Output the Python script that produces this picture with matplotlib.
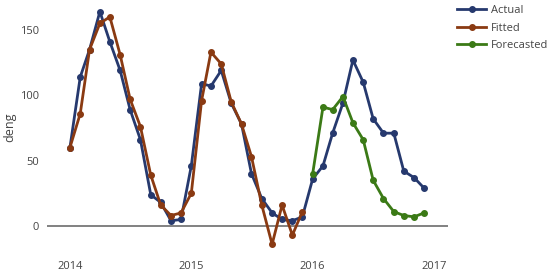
import numpy as np
import pandas as pd
import matplotlib
matplotlib.use('Agg')
import matplotlib.pyplot as plt
import matplotlib.dates as mdates

plt.rcParams['font.family'] = ['Open Sans', 'DejaVu Sans']

# monthly series
months_actual = pd.date_range('2014-01-01', periods=36, freq='MS')
actual = [60, 114, 135, 164, 141, 119, 89, 66, 24, 18, 4, 5,
          46, 109, 107, 119, 94, 78, 40, 21, 10, 5, 4, 7,
          36, 46, 71, 94, 127, 110, 82, 71, 71, 42, 37, 29]

months_fitted = pd.date_range('2014-01-01', periods=24, freq='MS')
fitted = [60, 86, 135, 155, 160, 131, 97, 76, 39, 16, 8, 10,
          25, 96, 133, 124, 95, 78, 53, 16, -14, 16, -7, 11]

months_fcst = pd.date_range('2016-01-01', periods=12, freq='MS')
forecast = [40, 91, 89, 99, 79, 66, 35, 21, 11, 8, 7, 10]

c_act = '#26396e'
c_fit = '#8a3a12'
c_fc = '#3b7a16'

fig = plt.figure(figsize=(5.5, 2.76), dpi=100)
ax = fig.add_axes([47/550, 21/276, 401/550, 255/276])

ax.axhline(0, color='#777777', lw=1.3, zorder=1)
kw = dict(lw=2, marker='o', ms=4)
ax.plot(months_actual, actual, color=c_act, label='Actual', **kw)
ax.plot(months_fitted, fitted, color=c_fit, label='Fitted', **kw)
ax.plot(months_fcst, forecast, color=c_fc, label='Forecasted', **kw)

ax.set_xlim(pd.Timestamp('2013-10-24'), pd.Timestamp('2017-02-11'))
ax.set_ylim(-22.2, 172.9)
ax.set_yticks([0, 50, 100, 150])
ax.xaxis.set_major_locator(mdates.YearLocator())
ax.xaxis.set_major_formatter(mdates.DateFormatter('%Y'))
ax.tick_params(length=0, labelsize=8, colors='#444444')
ax.tick_params(axis='y', pad=6)
ax.tick_params(axis='x', pad=4)
for s in ax.spines.values():
    s.set_visible(False)
fig.text(10/550, 1 - 127/276, 'deng', rotation=90, ha='center', va='center',
         fontsize=9, color='#444444')

fig.legend(*ax.get_legend_handles_labels(), loc='upper left',
           bbox_to_anchor=(455/550, 0.99), frameon=False,
           fontsize=8, handlelength=2.6, handletextpad=0.4,
           labelcolor='#444444', borderaxespad=0, borderpad=0.2,
           labelspacing=0.6)

fig.savefig('out.png', dpi=100)
